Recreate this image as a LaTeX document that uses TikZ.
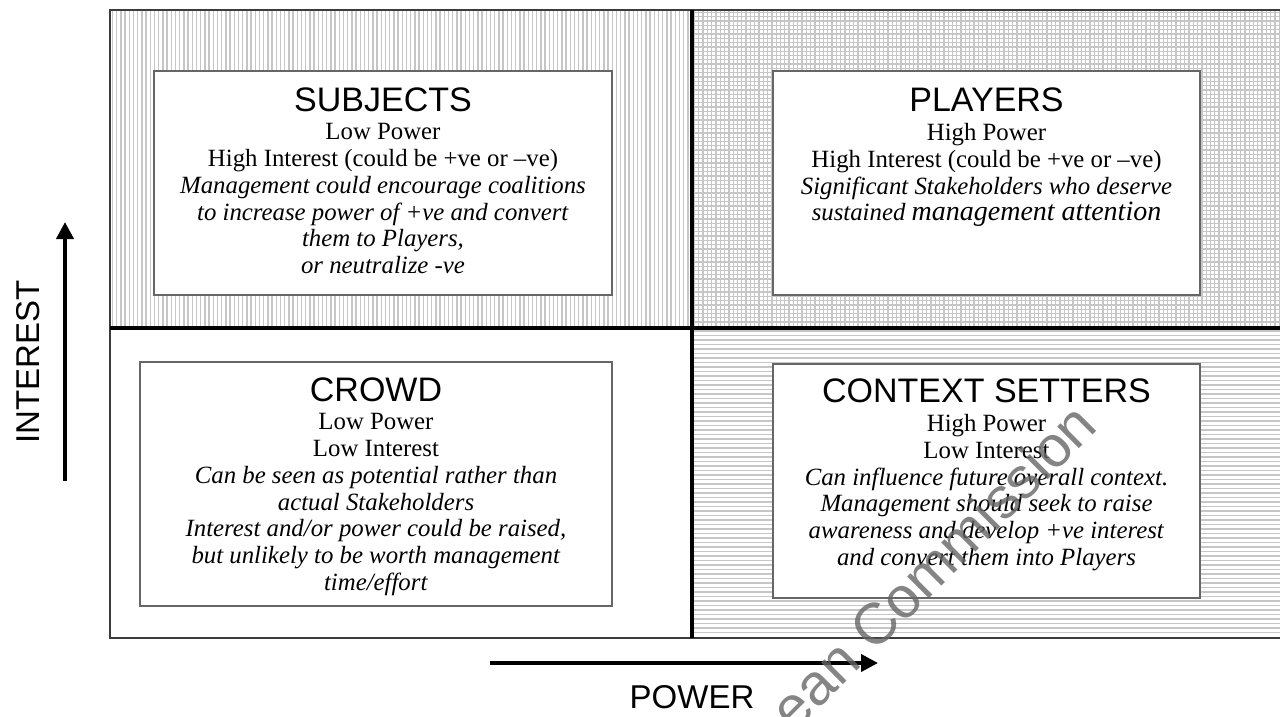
\documentclass[tikz,border=0pt]{standalone}
\usepackage{fontspec}
\setmainfont{Liberation Serif}
\setsansfont{Liberation Sans}
\usetikzlibrary{positioning,arrows.meta}

\definecolor{hatch}{RGB}{198,198,198}
\definecolor{framegray}{RGB}{60,60,60}

\tikzset{
  hatchline/.style={draw=hatch, line width=1.3pt},
  qbox/.style={draw=black!60, line width=1.2pt, fill=white, inner sep=0pt},
  qhead/.style={font=\sffamily\fontsize{34}{34}\selectfont, inner sep=0pt},
  qbody/.style={font=\fontsize{24.8}{26.9}\selectfont, align=center, inner sep=0pt},
  axis/.style={line width=4pt, -{Triangle[length=17pt,width=17pt]}},
  axislabel/.style={font=\sffamily\fontsize{33}{33}\selectfont, inner sep=0pt},
}

\begin{document}
\begin{tikzpicture}[x=1pt,y=-1pt]
\useasboundingbox (0,0) rectangle (1280,716);

% hatching of the quadrants
\foreach \x in {112.5,116.7,...,690} \draw[hatchline] (\x,10) -- (\x,328);
\foreach \x in {694.5,698.8,...,1280} \draw[hatchline] (\x,10) -- (\x,328);
\foreach \y in {12.5,16.8,...,327} \draw[hatchline] (692,\y) -- (1280,\y);
\foreach \y in {331,335.5,...,636} \draw[hatchline] (692,\y) -- (1280,\y);

% frame and dividers
\draw[framegray, line width=2pt] (110,10) rectangle (1290,638);
\draw[line width=3.5pt] (692,10) -- (692,638);
\draw[line width=3.5pt] (110,328) -- (1290,328);

% subjects
\node[qbox, minimum width=458pt, minimum height=224pt] (subjects) at (383,183) {};
\node[qhead, below=17pt of subjects.north] (subjectshead) {SUBJECTS};
\node[qbody, below=11pt of subjectshead] (subjectstext) {Low Power\\
  High Interest (could be +ve or –ve)\\
  \textit{Management could encourage coalitions}\\
  \textit{to increase power of +ve and convert}\\
  \textit{them to Players,}\\
  \textit{or neutralize -ve}};

% players
\node[qbox, minimum width=427pt, minimum height=224pt] (players) at (986.5,183) {};
\node[qhead, below=17pt of players.north] (playershead) {PLAYERS};
\node[qbody, below=11pt of playershead] (playerstext) {High Power\\
  High Interest (could be +ve or –ve)\\
  \textit{Significant Stakeholders who deserve}\\
  \textit{sustained {\fontsize{28}{28}\selectfont management attention}}};

% crowd
\node[qbox, minimum width=472pt, minimum height=244pt] (crowd) at (376,484) {};
\node[qhead, below=16pt of crowd.north] (crowdhead) {CROWD};
\node[qbody, below=11pt of crowdhead] (crowdtext) {Low Power\\
  Low Interest\\
  \textit{Can be seen as potential rather than}\\
  \textit{actual Stakeholders}\\
  \textit{Interest and/or power could be raised,}\\
  \textit{but unlikely to be worth management}\\
  \textit{time/effort}};

% context setters
\node[qbox, minimum width=427pt, minimum height=234pt] (context) at (986.5,481) {};
\node[qhead, below=15pt of context.north] (contexthead) {CONTEXT SETTERS};
\node[qbody, below=11pt of contexthead] (contexttext) {High Power\\
  Low Interest\\
  \textit{Can influence future overall context.}\\
  \textit{Management should seek to raise}\\
  \textit{awareness and develop +ve interest}\\
  \textit{and convert them into Players}};

% axes
\coordinate (interestfrom) at (65,481);
\coordinate (interestto) at (65,222);
\draw[axis] (interestfrom) -- (interestto);
\node[axislabel, rotate=90] (interest) at (28,362) {INTEREST};
\coordinate (powerfrom) at (490,663);
\coordinate (powerto) at (878,663);
\draw[axis] (powerfrom) -- (powerto);
\node[axislabel] (power) at (692,697) {POWER};

% watermark
\node[font=\sffamily\fontsize{58}{58}\selectfont, text=black!60, opacity=0.8,
  rotate=45, anchor=base east, inner sep=0pt] (stamp) at (1100,428) {European Commission};
\end{tikzpicture}
\end{document}
